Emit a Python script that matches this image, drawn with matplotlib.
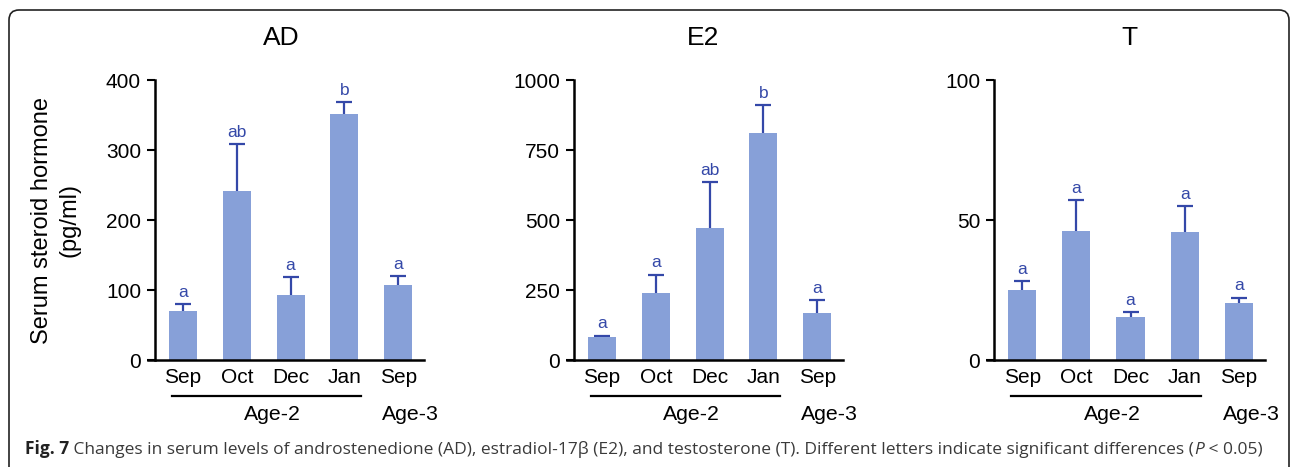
import matplotlib.pyplot as plt
from matplotlib.patches import FancyBboxPatch
from matplotlib.text import Annotation
import matplotlib.transforms as mtransforms

plt.rcParams['font.family'] = ['Liberation Sans', 'DejaVu Sans']

months = ['Sep', 'Oct', 'Dec', 'Jan', 'Sep']

# means and upper error (SEM) for each hormone
ad_mean = [70, 241, 93, 351, 107]
ad_err = [10, 68, 25, 18, 13]
ad_sig = ['a', 'ab', 'a', 'b', 'a']

e2_mean = [81, 238, 470, 810, 167]
e2_err = [6, 67, 165, 101, 47]
e2_sig = ['a', 'a', 'ab', 'b', 'a']

t_mean = [25.0, 46.1, 15.4, 45.7, 20.4]
t_err = [3.2, 11.0, 1.7, 9.4, 1.9]
t_sig = ['a', 'a', 'a', 'a', 'a']

bar_color = '#87a0d8'
err_color = '#3448a8'

W, H = 1293, 467
fig = plt.figure(figsize=(W / 100, H / 100), dpi=100)

# rounded frame around the figure
frame = FancyBboxPatch((0.09, -0.2), 12.80, 4.77,
                       boxstyle='round,pad=0,rounding_size=0.1',
                       transform=fig.dpi_scale_trans, fill=False,
                       edgecolor='#222222', linewidth=1.2)
fig.add_artist(frame)

panels = [
    ('AD', ad_mean, ad_err, ad_sig, 400, [0, 100, 200, 300, 400], 155, 424, 281),
    ('E2', e2_mean, e2_err, e2_sig, 1000, [0, 250, 500, 750, 1000], 574, 843, 703),
    ('T', t_mean, t_err, t_sig, 100, [0, 50, 100], 994, 1265, 1129),
]

x = list(range(len(months)))
for name, mean, err, sig, ymax, yticks, left, right, title_x in panels:
    ax = fig.add_axes([left / W, 1 - 360 / H, (right - left) / W, 280 / H])
    # symmetric bars drawn beneath the columns, so only the upper half shows
    ax.errorbar(x, mean, yerr=err, fmt='none',
                ecolor=err_color, elinewidth=1.6, capsize=6, capthick=1.6, zorder=1)
    ax.bar(x, mean, width=0.52, color=bar_color, zorder=2)
    for xi, m, e, s in zip(x, mean, err, sig):
        ax.annotate(s, (xi, m + e), xytext=(0, 3), textcoords='offset points',
                    ha='center', va='bottom', color=err_color, fontsize=12.5)
    ax.set_xlim(-0.52, 4.48)
    ax.set_ylim(0, ymax)
    ax.set_yticks(yticks)
    ax.set_xticks(x, months)
    ax.tick_params(axis='x', length=0, pad=6, labelsize=15)
    ax.tick_params(axis='y', length=6, width=1.5, pad=4, labelsize=15)
    for sp in ['top', 'right']:
        ax.spines[sp].set_visible(False)
    for sp in ['left', 'bottom']:
        ax.spines[sp].set_linewidth(1.8)
    ax.spines['bottom'].set_bounds(-0.65, 4.48)

    # month grouping beneath the axis
    trans = mtransforms.blended_transform_factory(ax.transData, ax.transAxes)
    ax.plot([-0.2, 3.3], [-0.129, -0.129], color='black', lw=1.6,
            transform=trans, clip_on=False)
    ax.text(1.66, -0.193, 'Age-2', transform=trans, ha='center', va='center', fontsize=15.3)
    ax.text(4.22, -0.193, 'Age-3', transform=trans, ha='center', va='center', fontsize=15.3)

    fig.text(title_x / W, 1 - 38 / H, name, ha='center', va='center', fontsize=19)

    if name == 'AD':
        ax.set_ylabel('Serum steroid hormone\n(pg/ml)', fontsize=17, linespacing=1.35)
        ax.yaxis.set_label_coords(-(155 - 81) / (right - left), 0.5)

# caption
cap_font = ['Open Sans', 'DejaVu Sans']
cap_size = 12.5
t1 = fig.text(25 / W, 1 - 449 / H, 'Fig. 7', fontweight='bold', fontsize=cap_size,
              family=cap_font, va='center', ha='left', color='#222222')
t2 = Annotation(' Changes in serum levels of androstenedione (AD), estradiol-17\u03b2 (E2), '
                'and testosterone (T). Different letters indicate significant differences (',
                xy=(1, 0), xycoords=t1, va='bottom', ha='left', fontsize=cap_size,
                family=cap_font, color='#3a3a3a')
fig.add_artist(t2)
t3 = Annotation('P', xy=(1, 0), xycoords=t2, va='bottom', ha='left', fontsize=cap_size,
                family=cap_font, style='italic', color='#3a3a3a')
fig.add_artist(t3)
t4 = Annotation(' < 0.05)', xy=(1, 0), xycoords=t3, va='bottom', ha='left', fontsize=cap_size,
                family=cap_font, color='#3a3a3a')
fig.add_artist(t4)

fig.savefig('out.png', dpi=100)
